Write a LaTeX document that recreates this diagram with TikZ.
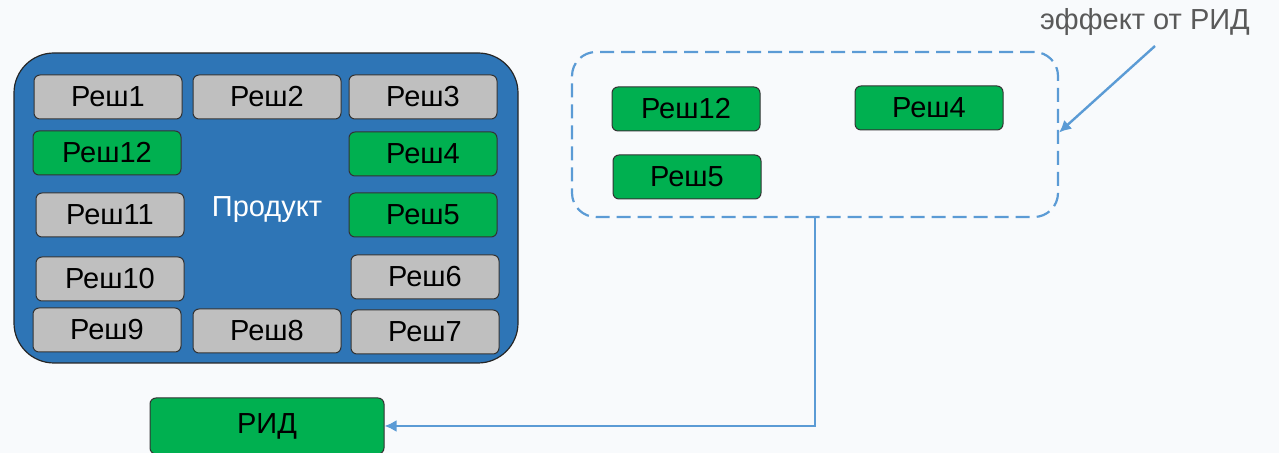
\documentclass[tikz,border=0pt]{standalone}
\usepackage{fontspec}
\setmainfont{Liberation Sans}
\usetikzlibrary{arrows.meta}
\definecolor{bgcol}{HTML}{F8FAFC}
\definecolor{prodblue}{HTML}{2E75B6}
\definecolor{lineblue}{HTML}{5B9BD5}
\definecolor{reshgray}{HTML}{BFBFBF}
\definecolor{reshgreen}{HTML}{00B050}
\definecolor{txtgray}{HTML}{595959}
\tikzset{
  resh/.style={draw=black!80, line width=0.5pt, rounded corners=3pt, fill=reshgray,
    minimum width=74pt, minimum height=22pt, inner sep=0pt,
    font=\fontsize{14.5pt}{16pt}\selectfont},
  reshok/.style={resh, fill=reshgreen},
  conn/.style={-{Latex[length=6pt,width=6pt]}, lineblue, line width=1.2pt}
}
\begin{document}
\begin{tikzpicture}[x=0.5pt,y=-0.5pt]
      \fill[bgcol] (0,0) rectangle (1279,453);
      \useasboundingbox (0,0) rectangle (1279,453);
      % product
      \draw[fill=prodblue, draw=black!85, line width=0.6pt, rounded corners=20pt] (14,53) rectangle (518,363);
      \node[white, font=\fontsize{14.5pt}{16pt}\selectfont] (prod) at (267,210) {Продукт};
      \node[resh] (r1) at (108,97) {Реш1};
      \node[resh] (r2) at (267,97) {Реш2};
      \node[resh] (r3) at (423,97) {Реш3};
      \node[reshok] (r12) at (107,153) {Реш12};
      \node[reshok] (r4) at (423,154) {Реш4};
      \node[resh] (r11) at (110,215) {Реш11};
      \node[reshok] (r5) at (423,215) {Реш5};
      \node[resh] (r10) at (110,279) {Реш10};
      \node[resh] (r6) at (425,277) {Реш6};
      \node[resh] (r9) at (107,330) {Реш9};
      \node[resh] (r8) at (267,331) {Реш8};
      \node[resh] (r7) at (425,332) {Реш7};
      % selected
      \node[draw=lineblue, line width=1.1pt, dash pattern=on 7pt off 3.5pt, rounded corners=12pt,
        minimum width=243pt, minimum height=82.5pt] (sel) at (815,134.5) {};
      \node[reshok] (s12) at (686,109) {Реш12};
      \node[reshok] (s4) at (929,108) {Реш4};
      \node[reshok] (s5) at (687,177) {Реш5};
      \node[txtgray, font=\fontsize{14.5pt}{16pt}\selectfont] (eff) at (1145,22) {эффект от РИД};
      \coordinate (effA) at (1155,46);
      \draw[conn] (effA) -- ([yshift=1pt]sel.east);
      % rid
      \node[reshok, minimum width=117pt, minimum height=28pt] (rid) at (267,426) {РИД};
      \draw[conn] (sel.south) |- (rid.east);
\end{tikzpicture}
\end{document}
